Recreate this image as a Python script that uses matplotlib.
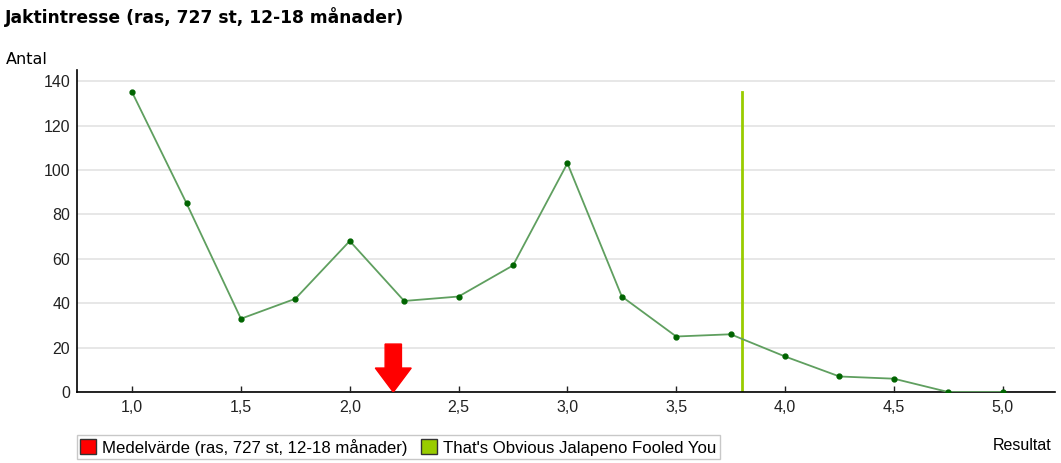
import numpy as np
import matplotlib
matplotlib.use("Agg")
import matplotlib.pyplot as plt
from matplotlib.patches import Patch

# data
resultat = [1.0, 1.25, 1.5, 1.75, 2.0, 2.25, 2.5, 2.75, 3.0, 3.25, 3.5, 3.75, 4.0, 4.25, 4.5, 4.75, 5.0]
antal = [135, 85, 33, 42, 68, 41, 43, 57, 103, 43, 25, 26, 16, 7, 6, 0, 0]
medelvarde = 2.2
hund_varde = 3.8
hund_linje_topp = 135
x_ticks = [1.0, 1.5, 2.0, 2.5, 3.0, 3.5, 4.0, 4.5, 5.0]
y_ticks = [0, 20, 40, 60, 80, 100, 120, 140]

title = "Jaktintresse (ras, 727 st, 12-18 månader)"
legend_labels = ["Medelvärde (ras, 727 st, 12-18 månader)", "That's Obvious Jalapeno Fooled You"]

plt.rcParams['font.family'] = ['Liberation Sans', 'DejaVu Sans']

fig = plt.figure(figsize=(10.61, 4.63), dpi=100)
ax = fig.add_axes([0.0726, 0.1533, 0.9217, 0.6955])

ax.plot(resultat, antal, color='#5f9f5f', lw=1.3, marker='o', ms=3.5,
        mfc='#006400', mec='#006400', zorder=3)

ax.plot([hund_varde, hund_varde], [0, hund_linje_topp], color='#99cc00', lw=2, zorder=2)

# red arrow for the mean
ax.arrow(medelvarde, 21.6, 0, -21.6, width=0.075, head_width=0.165, head_length=10.8,
         length_includes_head=True, color='#ff0000', zorder=4)

ax.set_xlim(0.747, 5.24)
ax.set_ylim(0, 145)
ax.set_xticks(x_ticks)
ax.set_xticklabels([f"{v:.1f}".replace('.', ',') for v in x_ticks])
ax.set_yticks(y_ticks)
ax.yaxis.grid(True, color='#e3e3e3', lw=1.2)
ax.set_axisbelow(True)
for s in ['top', 'right']:
    ax.spines[s].set_visible(False)
ax.spines['left'].set_linewidth(1.2)
ax.spines['bottom'].set_linewidth(1.2)
ax.tick_params(axis='x', direction='in', length=4, width=1, labelsize=11.5, colors='#222222', pad=6)
ax.tick_params(axis='y', length=0, labelsize=11.5, colors='#222222', pad=5)

fig.text(5 / 1061, 1 - 17 / 463, title, fontsize=12.3, fontweight='bold',
         family=['DejaVu Sans'], va='center', ha='left')
fig.text(6 / 1061, 1 - 59 / 463, "Antal", fontsize=11.5, family=['DejaVu Sans'],
         va='center', ha='left')
fig.text(1052 / 1061, 1 - 445 / 463, "Resultat", fontsize=11.5, va='center', ha='right')

handles = [Patch(facecolor='#ff0000', edgecolor='#333333'),
           Patch(facecolor='#99cc00', edgecolor='#333333')]
fig.legend(handles, legend_labels, loc='lower left', bbox_to_anchor=(77 / 1061, 1 - 459 / 463),
           ncol=2, fontsize=12.1, frameon=True, fancybox=False, edgecolor='#bbbbbb',
           handlelength=0.95, handleheight=1.0, handletextpad=0.35, columnspacing=0.8,
           borderpad=0.2, borderaxespad=0)

fig.savefig('out.png', dpi=100)
